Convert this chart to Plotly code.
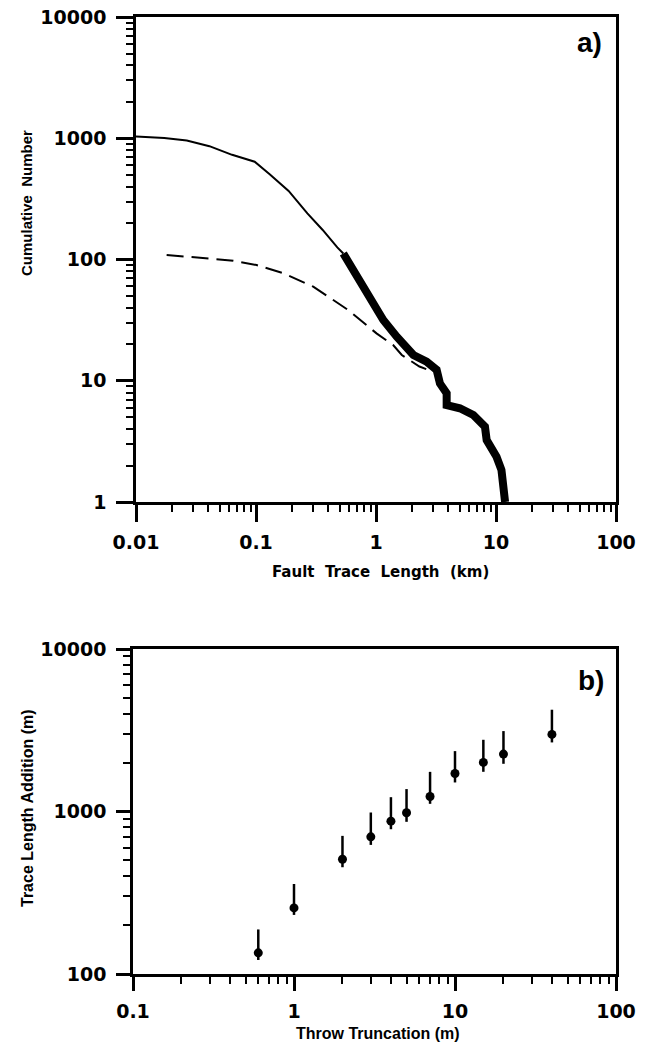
import plotly.graph_objects as go

# ---- Panel a) data ----
model_len = [0.01, 0.0172, 0.0265, 0.0409, 0.0632, 0.0975, 0.130, 0.187, 0.268, 0.358, 0.476, 0.534]
model_num = [1032, 1005, 958, 860, 730, 640, 505, 368, 240, 176, 126, 112]

obs_len = [0.534, 0.690, 0.891, 1.15, 1.49, 1.69, 2.05, 2.64, 3.2, 3.41, 3.88, 3.88, 5.0, 6.47, 8.09, 8.36, 10.1, 11.1, 11.9]
obs_num = [112, 72, 46, 31.7, 23.1, 19.7, 16.3, 14.4, 12.3, 9.5, 7.9, 6.3, 5.93, 5.22, 4.18, 3.24, 2.36, 1.84, 1.0]

dash_len = [0.018, 0.0647, 0.101, 0.169, 0.30, 0.587, 1.01, 1.39, 1.64, 2.3, 2.9]
dash_num = [109, 97.8, 90, 77, 59.7, 38.3, 24.6, 19.7, 16.3, 13.1, 12.0]

# ---- Panel b) data ----
throw = [0.6, 1, 2, 3, 4, 5, 7, 10, 15, 20, 40]
addition = [135, 255, 508, 698, 872, 982, 1237, 1714, 2004, 2256, 2981]
add_upper = [188, 358, 708, 986, 1225, 1374, 1754, 2353, 2763, 3125, 4230]
add_lower = [122, 231, 454, 623, 778, 864, 1115, 1509, 1755, 1966, 2661]

ya_ticks = [1, 10, 100, 1000, 10000]
ya_text = ["1", "10", "100", "1000", "10000"]
xa_ticks = [0.01, 0.1, 1, 10, 100]
xa_text = ["0.01", "0.1", "1", "10", "100"]
yb_ticks = [100, 1000, 10000]
yb_text = ["100", "1000", "10000"]
xb_ticks = [0.1, 1, 10, 100]
xb_text = ["0.1", "1", "10", "100"]


def minors(lo, hi):
    vals = []
    for e in range(lo, hi):
        for m in range(2, 10):
            vals.append(m * 10 ** e)
    return vals


W, H = 648, 1043
tickfont = dict(family="DejaVu Sans", size=19, color="black", weight="bold")

fig = go.Figure()
fig.add_trace(go.Scatter(x=model_len, y=model_num, mode="lines",
                         line=dict(color="black", width=2), xaxis="x", yaxis="y"))
fig.add_trace(go.Scatter(x=dash_len, y=dash_num, mode="lines",
                         line=dict(color="black", width=2, dash="17px,8px"), xaxis="x", yaxis="y"))
fig.add_trace(go.Scatter(x=obs_len, y=obs_num, mode="lines",
                         line=dict(color="black", width=8), xaxis="x", yaxis="y"))

err_plus = [u - v for u, v in zip(add_upper, addition)]
err_minus = [v - l for v, l in zip(addition, add_lower)]
fig.add_trace(go.Scatter(x=throw, y=addition, mode="markers",
                         marker=dict(color="black", size=9),
                         error_y=dict(type="data", symmetric=False, array=err_plus,
                                      arrayminus=err_minus, width=0, thickness=2.5,
                                      color="black"),
                         xaxis="x2", yaxis="y2"))


def axis(domain, rng, tv, tt, mlo, mhi, anchor, ticklen=17, standoff=None):
    d = dict(type="log", domain=domain, range=rng, tickmode="array", tickvals=tv,
             ticktext=tt, ticks="outside", ticklen=ticklen, tickwidth=2.5,
             tickcolor="black", showline=True, linewidth=2.5, linecolor="black",
             mirror=True, showgrid=False, zeroline=False, tickfont=tickfont,
             anchor=anchor, automargin=False,
             minor=dict(tickvals=minors(mlo, mhi), ticks="outside", ticklen=7,
                        tickwidth=1.5, tickcolor="black", showgrid=False))
    if standoff is not None:
        d["ticklabelstandoff"] = standoff
    return d


fig.update_layout(
    template="none",
    width=W, height=H, margin=dict(l=0, r=0, t=0, b=0, autoexpand=False),
    paper_bgcolor="white", plot_bgcolor="white", showlegend=False,
    xaxis=axis([136 / W, 616 / W], [-2, 2], xa_ticks, xa_text, -2, 2, "y", 17, 4),
    yaxis=axis([(H - 502) / H, (H - 17) / H], [0, 4], ya_ticks, ya_text, 0, 4, "x", 17, 6),
    xaxis2=axis([133 / W, 616 / W], [-1, 2], xb_ticks, xb_text, -1, 2, "y2", 14, 4),
    yaxis2=axis([(H - 974) / H, (H - 649) / H], [2, 4], yb_ticks, yb_text, 2, 4, "x2", 14, 6),
)

titlefont = dict(family="Liberation Sans", size=16, color="black", weight="bold")
ann = [
    dict(text="Cumulative\u00a0\u00a0Number", x=26 / W, y=(H - 203) / H, textangle=-90,
         font=dict(family="Liberation Sans", size=15, color="black", weight="bold")),
    dict(text="Fault\u00a0\u00a0Trace\u00a0\u00a0Length\u00a0\u00a0(km)", x=381 / W, y=(H - 572) / H,
         font=dict(family="DejaVu Sans", size=15, color="black", weight="bold")),
    dict(text="Trace Length Addition (m)", x=27 / W, y=(H - 808) / H, textangle=-90, font=titlefont),
    dict(text="Throw Truncation (m)", x=378 / W, y=(H - 1033) / H, font=titlefont),
    dict(text="a)", x=589 / W, y=(H - 43) / H,
         font=dict(family="Liberation Sans", size=28, color="black", weight="bold")),
    dict(text="b)", x=591 / W, y=(H - 680) / H,
         font=dict(family="Liberation Sans", size=28, color="black", weight="bold")),
]
for a in ann:
    a.update(xref="paper", yref="paper", showarrow=False, xanchor="center", yanchor="middle")
fig.update_layout(annotations=ann)

fig.write_html("out.html", config={"displayModeBar": False},
               post_script="document.body.style.margin='0';")
